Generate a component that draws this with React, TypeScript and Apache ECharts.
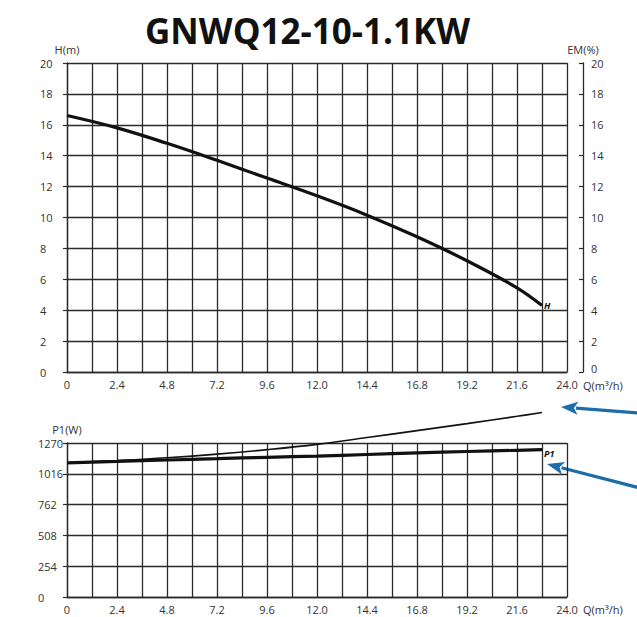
import React, { useEffect, useRef } from "react";
import * as echarts from "echarts";

const title = "GNWQ12-10-1.1KW";
const qH = [0, 2.4, 4.8, 7.2, 9.6, 12.0, 14.4, 16.8, 19.2, 21.6, 22.8];
const hVals = [16.6, 15.8, 14.8, 13.7, 12.55, 11.4, 10.15, 8.75, 7.2, 5.45, 4.3];
const qP = [0, 2.4, 4.8, 7.2, 9.6, 12.0, 14.4, 16.8, 19.2, 21.6, 22.8];
const p1Vals = [1106, 1118, 1130, 1141, 1152, 1162, 1175, 1188, 1200, 1210, 1215];
const qThin = [0, 2.4, 4.8, 7.2, 9.6, 12.0, 14.4, 16.8, 19.2, 21.6, 22.8];
const thinVals = [1106, 1125, 1148, 1178, 1215, 1259, 1315, 1372, 1430, 1490, 1522];

const FONT = "Open Sans";
const GRID_C = "#2a2a2a";
const LBL_C = "#333";

function qLabel(v: number) {
  const k = Math.round(v / 1.2);
  if (k % 2 === 1) return "";
  if (v === 0) return "0";
  return (k * 1.2).toFixed(1);
}

function arrow(tip: [number, number], tail: [number, number], color: string) {
  const dx = tip[0] - tail[0];
  const dy = tip[1] - tail[1];
  const len = Math.sqrt(dx * dx + dy * dy);
  const ux = dx / len, uy = dy / len;
  const hl = 17, hw = 6.5;
  const bx = tip[0] - ux * hl, by = tip[1] - uy * hl;
  return [
    { type: "line", shape: { x1: tail[0], y1: tail[1], x2: bx + ux * 2, y2: by + uy * 2 }, style: { stroke: color, lineWidth: 3.2 } },
    {
      type: "polygon",
      shape: { points: [tip, [bx - uy * hw, by + ux * hw], [bx + ux * 4, by + uy * 4], [bx + uy * hw, by - ux * hw]] },
      style: { fill: color },
    },
  ];
}

export default function App() {
  const ref = useRef<HTMLDivElement>(null);
  useEffect(() => {
    const chart = echarts.init(ref.current!, undefined, { renderer: "svg" });
    const axisLbl = { color: LBL_C, fontSize: 11, fontFamily: FONT };
    const split = { show: true, lineStyle: { color: GRID_C, width: 1.3 } };
    const xAxisBase = (gridIndex: number) => ({
      type: "value",
      gridIndex,
      min: 0,
      max: 24,
      interval: 1.2,
      axisLine: { show: true, lineStyle: { color: GRID_C, width: 1.3 } },
      axisTick: { show: false },
      splitLine: split,
      axisLabel: { ...axisLbl, margin: 7, formatter: qLabel, showMinLabel: true, showMaxLabel: true },
    });
    const tick = (inside: boolean) => ({ show: true, inside, length: 4, lineStyle: { color: GRID_C, width: 1.2 } });
    const nameStyle = { color: LBL_C, fontSize: 11, fontFamily: FONT };
    const blue = "#1d6ea8";
    chart.setOption({
      animation: false,
      title: {
        text: title,
        left: 140,
        top: 8,
        textStyle: { fontFamily: FONT, fontWeight: "bold", fontSize: 35, color: "#111" },
      },
      grid: [
        { left: 67, top: 63, width: 500, height: 309 },
        { left: 67, top: 443, width: 500, height: 154 },
      ],
      xAxis: [xAxisBase(0), xAxisBase(1)],
      yAxis: [
        {
          type: "value", gridIndex: 0, min: 0, max: 20, interval: 2, position: "left", offset: 31,
          name: "H(m)", nameGap: 8, nameTextStyle: nameStyle,
          axisLine: { show: true, lineStyle: { color: GRID_C, width: 1.3 } },
          axisTick: tick(false),
          axisLabel: { ...axisLbl, inside: true, margin: 4 },
          splitLine: split,
        },
        {
          type: "value", gridIndex: 0, min: 0, max: 20, interval: 2, position: "right", offset: 16,
          name: "EM(%)", nameGap: 8, nameTextStyle: nameStyle,
          axisLine: { show: true, lineStyle: { color: GRID_C, width: 1.3 } },
          axisTick: tick(true),
          axisLabel: {
            ...axisLbl, margin: 8,
            formatter: (v: number) => (v === 0 ? "{z|0}" : String(v)),
            rich: { z: { color: LBL_C, fontSize: 11, fontFamily: FONT, padding: [0, 0, 8, 0] } },
          },
          splitLine: { show: false },
        },
        {
          type: "value", gridIndex: 1, min: 0, max: 1270, interval: 254, position: "left", offset: 33,
          name: "P1(W)", nameGap: 8, nameTextStyle: nameStyle,
          axisLine: { show: true, lineStyle: { color: GRID_C, width: 1.3 } },
          axisTick: tick(false),
          axisLabel: { ...axisLbl, inside: true, margin: 4, formatter: (v: number) => String(v) },
          splitLine: split,
        },
      ],
      series: [
        {
          type: "line", name: "H", xAxisIndex: 0, yAxisIndex: 0, smooth: 0.4, showSymbol: false,
          data: qH.map((q, i) => [q, hVals[i]]),
          lineStyle: { color: "#111", width: 3.2 },
          endLabel: { show: true, formatter: "H", fontSize: 9, fontStyle: "italic", fontWeight: "bold", fontFamily: FONT, color: "#111", distance: 2 },
        },
        {
          type: "line", name: "curve", xAxisIndex: 1, yAxisIndex: 2, smooth: 0.4, showSymbol: false, clip: false,
          data: qThin.map((q, i) => [q, thinVals[i]]),
          lineStyle: { color: "#111", width: 1.6 },
        },
        {
          type: "line", name: "P1", xAxisIndex: 1, yAxisIndex: 2, smooth: 0.4, showSymbol: false,
          data: qP.map((q, i) => [q, p1Vals[i]]),
          lineStyle: { color: "#111", width: 3.2 },
          endLabel: { show: true, formatter: "P1", fontSize: 9, fontStyle: "italic", fontWeight: "bold", fontFamily: FONT, color: "#111", distance: 2, offset: [0, 4] },
        },
      ],
      graphic: [
        { type: "text", left: 583, top: 380, style: { text: "Q(m³/h)", fill: LBL_C, font: `11px "${FONT}"` } },
        { type: "text", left: 583, top: 604, style: { text: "Q(m³/h)", fill: LBL_C, font: `11px "${FONT}"` } },
        ...arrow([561, 407], [640, 413], blue),
        ...arrow([547, 464], [640, 488], blue),
      ],
    });
    return () => chart.dispose();
  }, []);
  return <div ref={ref} style={{ position: "absolute", left: 0, top: 0, width: 637, height: 617 }} />;
}
